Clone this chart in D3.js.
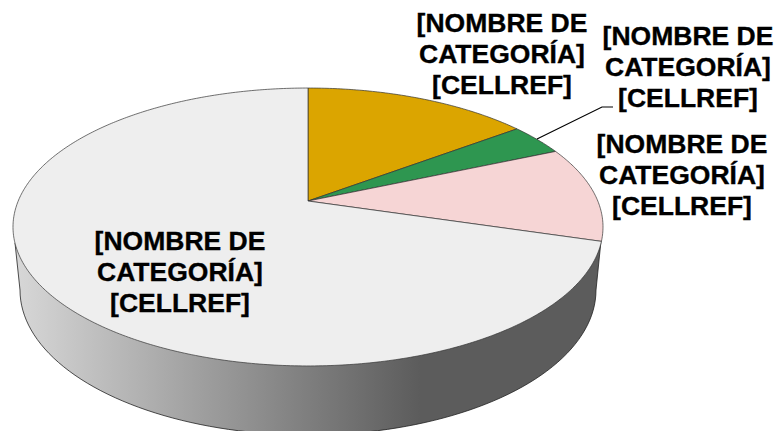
<!DOCTYPE html>
<html><head><meta charset="utf-8">
<script src="https://cdn.jsdelivr.net/npm/d3@7/dist/d3.min.js"></script>
<style>html,body{margin:0;padding:0;background:#fff}svg{display:block}</style>
</head><body><div id="chart"></div>
<script>
const categories = ["A","B","C","D"];
const values = [14.8, 3.7, 11.1, 70.4];
const colors = ["#dba500","#2e9650","#f6d5d5","#eeeeee"];
const labelLines = ["[NOMBRE DE","CATEGORÍA]","[CELLREF]"];
const labelCenters = [[502,32],[688,45],[682,153],[180,250]];

const W=776,H=431;
const svg=d3.select("#chart").append("svg").attr("width",W).attr("height",H);
const cx=308, cy=201, R=289.8, HH=134.1, p=-0.187;
const proj=a=>{const d=1-p*Math.cos(a);return [cx+R*Math.sin(a)/d, cy-HH*Math.cos(a)/d];};
const line=d3.line();

// wall
const grad=svg.append("defs").append("linearGradient").attr("id","wall")
  .attr("gradientUnits","userSpaceOnUse").attr("x1",20).attr("x2",420).attr("y1",0).attr("y2",0);
grad.append("stop").attr("offset",0).attr("stop-color","#d6d6d6");
grad.append("stop").attr("offset",1).attr("stop-color","#5c5c5c");
const lo={cx:308,cy:290,rx:288,ry:145};
const wallPts=[[601,241]].concat(d3.range(0,181,2).map(t=>{
  const r=t*Math.PI/180;return [lo.cx+lo.rx*Math.cos(r),lo.cy+lo.ry*Math.sin(r)];
}),[[15,243]]);
svg.append("path").attr("d",line(wallPts)+"Z").attr("fill","url(#wall)")
  .attr("stroke","#222").attr("stroke-width",0.8);

// slices
const pie=d3.pie().sort(null).value(d=>d)(values);
svg.selectAll("path.slice").data(pie).join("path").attr("class","slice")
  .attr("d",d=>{
    const n=Math.max(8,Math.ceil((d.endAngle-d.startAngle)*90));
    const pts=[[cx,cy]];
    for(let i=0;i<=n;i++)pts.push(proj(d.startAngle+(d.endAngle-d.startAngle)*i/n));
    return line(pts)+"Z";
  })
  .attr("fill",(d,i)=>colors[i]).attr("stroke","#333").attr("stroke-width",0.7);

// leader
svg.append("path").attr("d",line([[537,139],[602,107],[613,107]]))
  .attr("fill","none").attr("stroke","#000").attr("stroke-width",1.2);

// labels
labelCenters.forEach(([x,y])=>{
  labelLines.forEach((t,i)=>{
    svg.append("text").attr("x",x).attr("y",y+i*31).attr("text-anchor","middle")
      .attr("font-family","'Liberation Sans',Arial,sans-serif").attr("font-weight","bold")
      .attr("font-size",26.5).attr("fill","#000")
      .attr("stroke","#000").attr("stroke-width",0.35).text(t);
  });
});
</script></body></html>
